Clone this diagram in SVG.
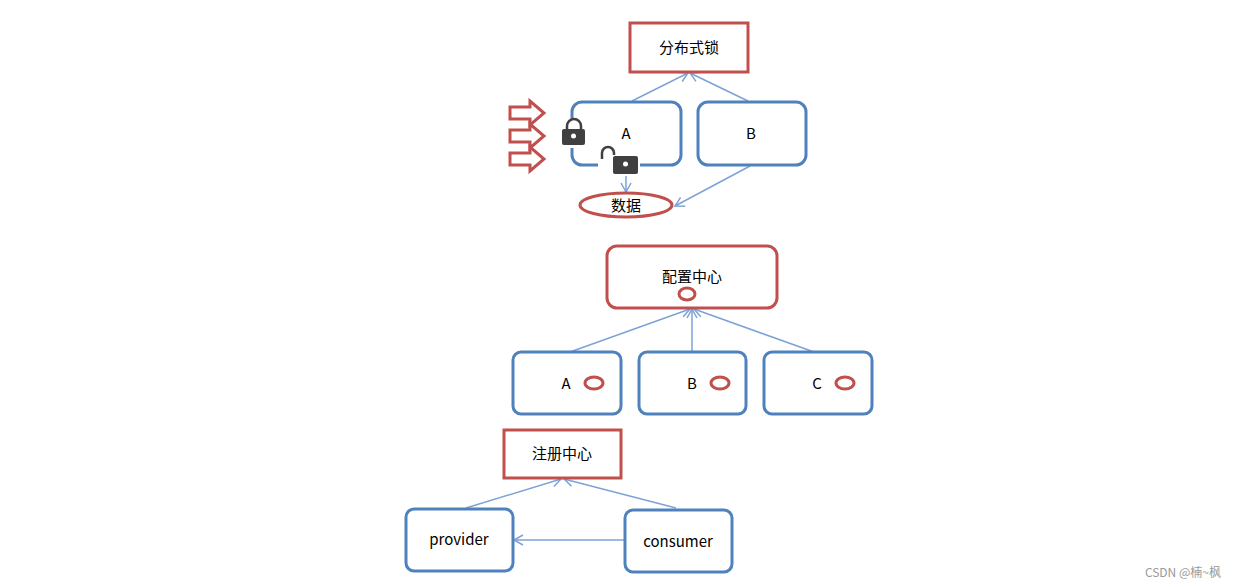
<svg xmlns="http://www.w3.org/2000/svg" width="1236" height="587" viewBox="0 0 1236 587">
<style>
.r{fill:#fff;stroke:#c0504d;stroke-width:3}
.b{fill:#fff;stroke:#4f81bd;stroke-width:3}
.t{font-family:"Noto Sans CJK SC","Liberation Sans",sans-serif;font-size:15px;fill:#000;text-anchor:middle}
.c{stroke:#7da2d6;stroke-width:1.5;fill:none}
.lk{fill:#404040}
</style>
<defs><marker id="a" markerWidth="12" markerHeight="12" refX="10" refY="6" orient="auto" markerUnits="userSpaceOnUse"><path d="M1,1 L10,6 L1,11" fill="none" stroke="#7da2d6" stroke-width="1.5"/></marker></defs>
<rect width="1236" height="587" fill="#fff"/>
<g id="connectors">
<line class="c" x1="632" y1="101" x2="688" y2="73" marker-end="url(#a)"/>
<line class="c" x1="748" y1="101" x2="690" y2="73" marker-end="url(#a)"/>
<line class="c" x1="626" y1="174" x2="626" y2="192" marker-end="url(#a)"/>
<line class="c" x1="750" y1="166" x2="675" y2="206" marker-end="url(#a)"/>
<line class="c" x1="570" y1="352" x2="690" y2="309" marker-end="url(#a)"/>
<line class="c" x1="692" y1="352" x2="692" y2="309" marker-end="url(#a)"/>
<line class="c" x1="814" y1="352" x2="694" y2="309" marker-end="url(#a)"/>
<line class="c" x1="466" y1="508" x2="561" y2="479" marker-end="url(#a)"/>
<line class="c" x1="676" y1="508" x2="564" y2="479" marker-end="url(#a)"/>
<line class="c" x1="625" y1="540" x2="514" y2="540" marker-end="url(#a)"/>
</g>
<g id="lock"><rect class="r" x="630" y="23" width="118" height="49"/><text class="t" x="689" y="53">分布式锁</text></g>
<g id="nodeA1"><rect class="b" x="572" y="102" width="109" height="63" rx="10"/><text class="t" x="626" y="139">A</text></g>
<g id="nodeB1"><rect class="b" x="698" y="102" width="108" height="63" rx="10"/><text class="t" x="751" y="139">B</text></g>
<g id="arrows" fill="#fff" stroke="#c0504d" stroke-width="3">
<path d="M510,107 h20 v-6 l14,12 l-14,12 v-6 h-20z"/>
<path d="M510,130 h20 v-6 l14,12 l-14,12 v-6 h-20z"/>
<path d="M510,153 h20 v-6 l14,12 l-14,12 v-6 h-20z"/>
</g>
<g id="locks">
<rect x="560" y="118" width="28" height="30" fill="#fff"/>
<path d="M567,130 v-4 a7,7 0 0 1 14,0 v4" fill="none" stroke="#404040" stroke-width="2.5"/>
<rect class="lk" x="562" y="129" width="23" height="16" rx="2"/><circle cx="573.5" cy="136" r="2.5" fill="#fff"/>
<rect x="598" y="144" width="42" height="32" fill="#fff"/>
<path d="M602,159 v-6 a6,6 0 0 1 12,0 v2" fill="none" stroke="#404040" stroke-width="2.5"/>
<rect class="lk" x="613" y="156" width="25" height="18" rx="2"/><circle cx="625.5" cy="164" r="2.5" fill="#fff"/>
</g>
<g id="data"><ellipse class="r" cx="626" cy="205" rx="46" ry="12"/><text class="t" x="626" y="211">数据</text></g>
<g id="config"><rect class="r" x="607" y="246" width="170" height="62" rx="10"/><text class="t" x="692" y="282">配置中心</text><ellipse class="r" cx="687" cy="294" rx="8" ry="6" stroke-width="2.5"/></g>
<g id="cA"><rect class="b" x="513" y="352" width="108" height="62" rx="8"/><text class="t" x="566" y="389">A</text><ellipse class="r" cx="594" cy="383" rx="9" ry="6" stroke-width="2.5"/></g>
<g id="cB"><rect class="b" x="639" y="352" width="107" height="62" rx="8"/><text class="t" x="692" y="389">B</text><ellipse class="r" cx="720" cy="383" rx="9" ry="6" stroke-width="2.5"/></g>
<g id="cC"><rect class="b" x="764" y="352" width="108" height="62" rx="8"/><text class="t" x="817" y="389">C</text><ellipse class="r" cx="845" cy="383" rx="9" ry="6" stroke-width="2.5"/></g>
<g id="registry"><rect class="r" x="504" y="430" width="117" height="48"/><text class="t" x="562" y="459">注册中心</text></g>
<g id="provider"><rect class="b" x="406" y="509" width="107" height="62" rx="8"/><text class="t" x="459" y="545">provider</text></g>
<g id="consumer"><rect class="b" x="625" y="510" width="107" height="62" rx="8"/><text class="t" x="678" y="547">consumer</text></g>
<text x="1221" y="577" font-family="Noto Sans CJK SC,Liberation Sans,sans-serif" font-size="12" fill="#999" text-anchor="end">CSDN @楠~枫</text>
</svg>
